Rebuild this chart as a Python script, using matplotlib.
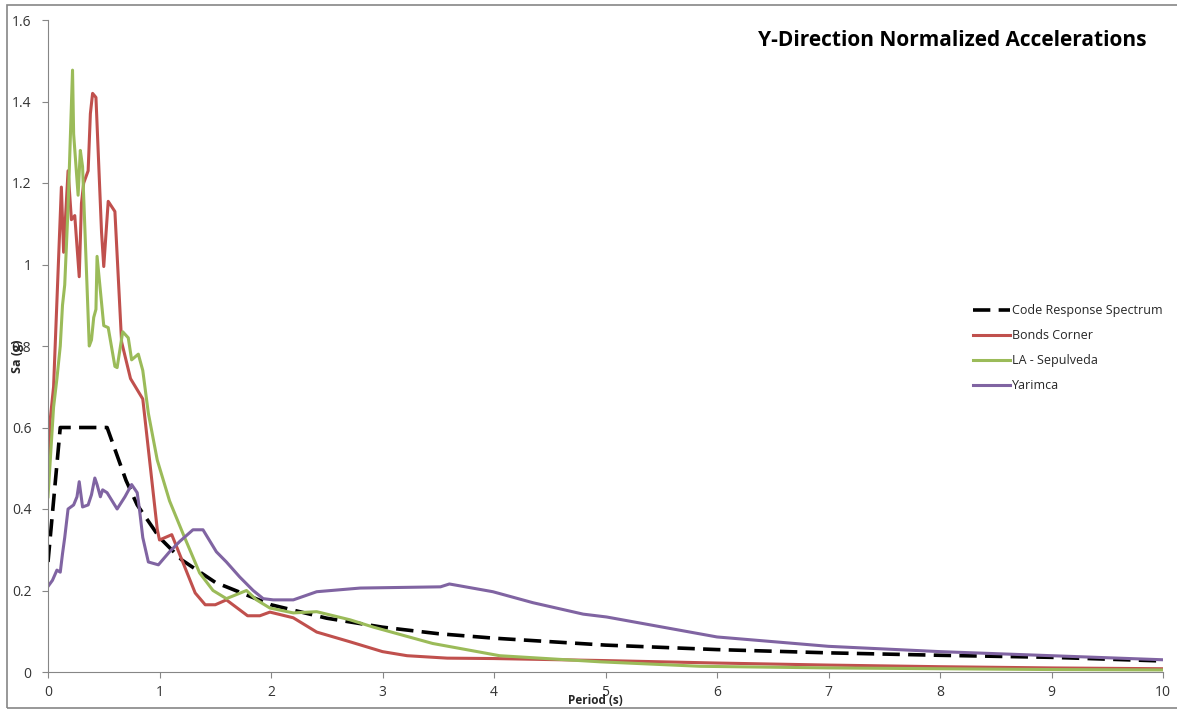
import matplotlib
matplotlib.use('Agg')
import matplotlib.pyplot as plt
from matplotlib.patches import Rectangle

plt.rcParams['font.family'] = ['Open Sans', 'DejaVu Sans']

# Code response spectrum
code_T = [0, 0.11, 0.53, 0.7, 0.8, 1.0, 1.2, 1.5, 2.0, 2.5, 3.0, 3.5, 4.0, 5.0, 6.0, 7.0, 8.0, 9.0, 10.0]
code_sa = [0.27, 0.6, 0.6, 0.47, 0.41, 0.33, 0.275, 0.22, 0.165, 0.132, 0.11, 0.094, 0.083,
           0.066, 0.055, 0.047, 0.041, 0.036, 0.027]

# Bonds Corner
bonds_T = [0, 0.02, 0.05, 0.12, 0.14, 0.18, 0.21, 0.24, 0.28, 0.30, 0.32, 0.36, 0.38, 0.40, 0.43,
           0.48, 0.50, 0.54, 0.60, 0.66, 0.74, 0.85, 0.98, 1.0, 1.11, 1.32, 1.41, 1.50, 1.60, 1.79,
           1.90, 1.99, 2.2, 2.41, 2.71, 3.0, 3.22, 3.58, 4.0, 5.0, 6.0, 7.0, 8.0, 9.0, 10.0]
bonds_sa = [0.48, 0.62, 0.70, 1.19, 1.03, 1.23, 1.11, 1.12, 0.97, 1.15, 1.20, 1.23, 1.37, 1.42, 1.41,
            1.08, 0.995, 1.155, 1.13, 0.81, 0.72, 0.67, 0.35, 0.324, 0.337, 0.194, 0.165, 0.165,
            0.177, 0.138, 0.138, 0.147, 0.133, 0.098, 0.074, 0.05, 0.04, 0.034, 0.033, 0.028,
            0.022, 0.017, 0.013, 0.010, 0.008]

# LA - Sepulveda
la_T = [0, 0.05, 0.08, 0.11, 0.13, 0.15, 0.18, 0.22, 0.23, 0.27, 0.29, 0.31, 0.37, 0.39, 0.41,
        0.43, 0.44, 0.50, 0.54, 0.60, 0.62, 0.67, 0.72, 0.75, 0.81, 0.85, 0.9, 0.98, 1.09, 1.21,
        1.36, 1.48, 1.60, 1.78, 1.87, 1.99, 2.2, 2.41, 2.71, 2.92, 3.45, 4.05, 4.95, 5.85,
        7.0, 8.0, 9.0, 10.0]
la_sa = [0.43, 0.65, 0.72, 0.80, 0.90, 0.95, 1.14, 1.477, 1.32, 1.17, 1.28, 1.24, 0.80, 0.815, 0.87,
         0.89, 1.02, 0.85, 0.845, 0.75, 0.747, 0.835, 0.82, 0.766, 0.78, 0.74, 0.635, 0.52, 0.42,
         0.34, 0.243, 0.20, 0.18, 0.20, 0.177, 0.157, 0.145, 0.148, 0.128, 0.11, 0.07, 0.04,
         0.025, 0.014, 0.010, 0.008, 0.006, 0.005]

# Yarimca
yar_T = [0, 0.04, 0.08, 0.11, 0.13, 0.15, 0.18, 0.23, 0.26, 0.28, 0.31, 0.36, 0.39, 0.42, 0.44,
         0.47, 0.49, 0.53, 0.62, 0.69, 0.75, 0.80, 0.82, 0.85, 0.90, 0.99, 1.09, 1.18, 1.30, 1.39,
         1.51, 1.60, 1.72, 1.84, 1.93, 2.02, 2.2, 2.41, 2.8, 3.52, 3.6, 3.99, 4.35, 4.8, 5.01,
         6.0, 6.74, 7.0, 8.0, 9.0, 10.0]
yar_sa = [0.21, 0.225, 0.25, 0.245, 0.29, 0.33, 0.40, 0.41, 0.43, 0.467, 0.405, 0.41, 0.435, 0.476,
          0.46, 0.43, 0.447, 0.44, 0.40, 0.43, 0.46, 0.44, 0.40, 0.33, 0.27, 0.263, 0.295, 0.32,
          0.349, 0.349, 0.295, 0.27, 0.233, 0.20, 0.18, 0.177, 0.177, 0.197, 0.206, 0.209, 0.216,
          0.197, 0.17, 0.142, 0.135, 0.086, 0.069, 0.063, 0.05, 0.04, 0.03]

fig = plt.figure(figsize=(11.77, 7.11), dpi=100)
ax = fig.add_axes([48 / 1177, 1 - 672 / 711, 1115 / 1177, 652 / 711])

# Excel-like chart border
fig.patches.append(Rectangle((7 / 1177, 3 / 711), 1.2, 1 - 8 / 711, transform=fig.transFigure,
                             fill=False, edgecolor='#868686', linewidth=1.2))

ax.plot(code_T, code_sa, color='black', lw=2.6, dashes=(4.8, 2.3), label='Code Response Spectrum')
ax.plot(bonds_T, bonds_sa, color='#C0504D', lw=2.2, label='Bonds Corner')
ax.plot(la_T, la_sa, color='#9BBB59', lw=2.2, label='LA - Sepulveda')
ax.plot(yar_T, yar_sa, color='#8064A2', lw=2.2, label='Yarimca')

ax.set_xlim(0, 10)
ax.set_ylim(0, 1.6)
ax.set_xticks(range(0, 11))
ax.set_yticks([0, 0.2, 0.4, 0.6, 0.8, 1.0, 1.2, 1.4, 1.6])
ax.set_yticklabels(['0', '0.2', '0.4', '0.6', '0.8', '1', '1.2', '1.4', '1.6'])
for s in ['top', 'right']:
    ax.spines[s].set_visible(False)
for s in ['left', 'bottom']:
    ax.spines[s].set_color('#868686')
ax.tick_params(colors='#868686', labelcolor='#333333', labelsize=10, length=4, direction='out')
ax.tick_params(axis='y', pad=8)
ax.tick_params(axis='x', pad=5)

fig.text(595 / 1177, 1 - 701 / 711, 'Period (s)', ha='center', va='center', fontsize=8.5,
         fontweight='bold', color='#262626')
fig.text(18 / 1177, 1 - 356 / 711, 'Sa (g)', ha='center', va='center', rotation=90, fontsize=9,
         fontweight='bold', color='#262626')
fig.text(952 / 1177, 1 - 41 / 711, 'Y-Direction Normalized Accelerations', ha='center', va='center',
         fontsize=15, fontweight='bold', color='black')

ax.legend(loc='upper left', bbox_to_anchor=(962 / 1177, 1 - 293 / 711), bbox_transform=fig.transFigure,
          frameon=False, fontsize=9, handlelength=2.9, handletextpad=0.2, labelspacing=0.95,
          labelcolor='#262626')

fig.savefig('out.png', dpi=100)
